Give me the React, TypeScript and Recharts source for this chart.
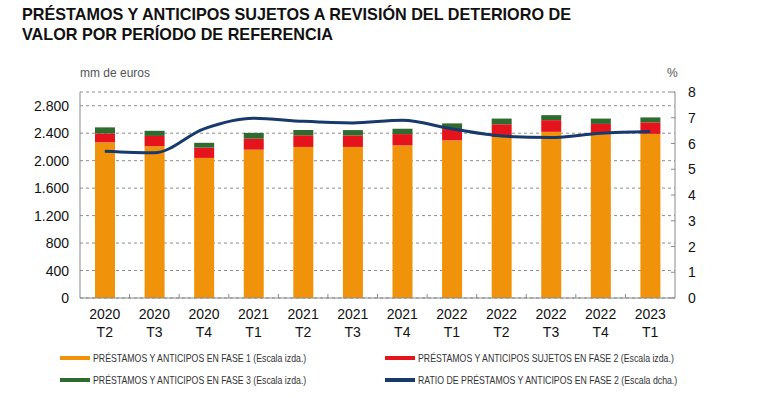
import React from "react";
import {
  ComposedChart,
  Bar,
  Line,
  XAxis,
  YAxis,
  CartesianGrid,
} from "recharts";

const years = ["2020", "2020", "2020", "2021", "2021", "2021", "2021", "2022", "2022", "2022", "2022", "2023"];
const quarters = ["T2", "T3", "T4", "T1", "T2", "T3", "T4", "T1", "T2", "T3", "T4", "T1"];

// mm de euros
const fase1 = [2266, 2210, 2040, 2160, 2200, 2200, 2222, 2295, 2345, 2420, 2385, 2390];
const fase2 = [131, 150, 150, 160, 170, 168, 165, 165, 185, 170, 150, 168];
const fase3 = [88, 75, 70, 85, 77, 77, 78, 83, 83, 73, 78, 72];
// %
const ratioFase2 = [5.7, 5.64, 6.57, 6.98, 6.86, 6.8, 6.9, 6.57, 6.29, 6.23, 6.4, 6.47];

const leftTicks = [0, 400, 800, 1200, 1600, 2000, 2400, 2800];
const rightTicks = [0, 1, 2, 3, 4, 5, 6, 7, 8];

const ORANGE = "#F0920A";
const RED = "#E5141C";
const GREEN = "#2F6B2E";
const NAVY = "#17396B";
const AXIS = "#8a8a8a";
const FONT = "'Liberation Sans', Arial, sans-serif";

const data = years.map((y, i) => ({
  periodo: `${y} ${quarters[i]}`,
  fase1: fase1[i],
  fase2: fase2[i],
  fase3: fase3[i],
  ratio: ratioFase2[i],
}));

const fmtMiles = (v: number) => v.toLocaleString("de-DE");

const PLOT_LEFT = 80;
const PLOT_RIGHT = 675;
const BAND = (PLOT_RIGHT - PLOT_LEFT) / data.length;

function XTick(props: any) {
  const { x, y, payload, index } = props;
  const [yr, q] = String(payload.value).split(" ");
  return (
    <g>
      {index < data.length - 1 && (
        <line x1={x + BAND / 2} x2={x + BAND / 2} y1={y} y2={y - 4} stroke={AXIS} />
      )}
      <text x={x} y={y + 21} textAnchor="middle" fontSize={14} fill="#111" fontFamily={FONT}>
        {yr}
      </text>
      <text x={x} y={y + 39} textAnchor="middle" fontSize={14} fill="#111" fontFamily={FONT}>
        {q}
      </text>
    </g>
  );
}

function RightTick(props: any) {
  const { x, y, payload } = props;
  return (
    <g>
      <line x1={x - 4} x2={x} y1={y} y2={y} stroke={AXIS} />
      <text x={x + 13} y={y + 5} textAnchor="start" fontSize={14} fill="#111" fontFamily={FONT}>
        {payload.value}
      </text>
    </g>
  );
}

const legendItems = [
  { label: "PRÉSTAMOS Y ANTICIPOS EN FASE 1 (Escala izda.)", color: ORANGE, left: 60, top: 352 },
  { label: "PRÉSTAMOS Y ANTICIPOS SUJETOS EN FASE 2 (Escala izda.)", color: RED, left: 385, top: 352 },
  { label: "PRÉSTAMOS Y ANTICIPOS EN FASE 3 (Escala izda.)", color: GREEN, left: 60, top: 374 },
  { label: "RATIO DE PRÉSTAMOS Y ANTICIPOS EN FASE 2 (Escala dcha.)", color: NAVY, left: 385, top: 374 },
];

export default function App() {
  return (
    <div style={{ position: "absolute", left: 0, top: 0, width: 759, height: 398, background: "#fff", fontFamily: FONT }}>
      <div
        style={{
          position: "absolute",
          left: 22,
          top: 4,
          fontSize: 16.2,
          fontWeight: 700,
          lineHeight: "20px",
          color: "#111",
        }}
      >
        PRÉSTAMOS Y ANTICIPOS SUJETOS A REVISIÓN DEL DETERIORO DE
        <br />
        VALOR POR PERÍODO DE REFERENCIA
      </div>
      <div style={{ position: "absolute", left: 80, top: 66, fontSize: 12, color: "#555" }}>mm de euros</div>
      <div style={{ position: "absolute", left: 667, top: 66, fontSize: 12, color: "#555" }}>%</div>

      <div style={{ position: "absolute", left: 0, top: 0 }}>
        <ComposedChart
          width={759}
          height={398}
          data={data}
          barSize={20}
          margin={{ top: 92, right: 24, left: 20, bottom: 60 }}
        >
          <CartesianGrid
            yAxisId="left"
            vertical={false}
            stroke="#8c8c8c"
            strokeDasharray="3 3"
          />
          <XAxis
            dataKey="periodo"
            interval={0}
            tickLine={false}
            tickSize={0}
            tickMargin={0}
            height={40}
            stroke={AXIS}
            tick={<XTick />}
          />
          <YAxis
            yAxisId="left"
            width={60}
            domain={[0, 3000]}
            ticks={leftTicks}
            tickFormatter={fmtMiles}
            tickLine={false}
            tickSize={0}
            tickMargin={11}
            stroke={AXIS}
            tick={{ fontSize: 14, fill: "#111", fontFamily: FONT }}
          />
          <YAxis
            yAxisId="right"
            orientation="right"
            width={60}
            domain={[0, 8]}
            ticks={rightTicks}
            tickLine={false}
            tickSize={0}
            tickMargin={0}
            stroke={AXIS}
            tick={<RightTick />}
          />
          <Bar yAxisId="left" dataKey="fase1" stackId="a" fill={ORANGE} isAnimationActive={false} />
          <Bar yAxisId="left" dataKey="fase2" stackId="a" fill={RED} isAnimationActive={false} />
          <Bar yAxisId="left" dataKey="fase3" stackId="a" fill={GREEN} isAnimationActive={false} />
          <Line
            yAxisId="right"
            type="monotone"
            dataKey="ratio"
            stroke={NAVY}
            strokeWidth={3}
            dot={false}
            isAnimationActive={false}
          />
        </ComposedChart>
      </div>

      {legendItems.map((it) => (
        <div
          key={it.label}
          style={{ position: "absolute", left: it.left, top: it.top, display: "flex", alignItems: "center" }}
        >
          <span style={{ display: "inline-block", width: 30, height: 4, background: it.color, marginRight: 3 }} />
          <span
            style={{
              display: "inline-block",
              fontSize: 11.5,
              color: "#333",
              whiteSpace: "nowrap",
              transform: "scaleX(0.76)",
              transformOrigin: "left center",
            }}
          >
            {it.label}
          </span>
        </div>
      ))}
    </div>
  );
}
